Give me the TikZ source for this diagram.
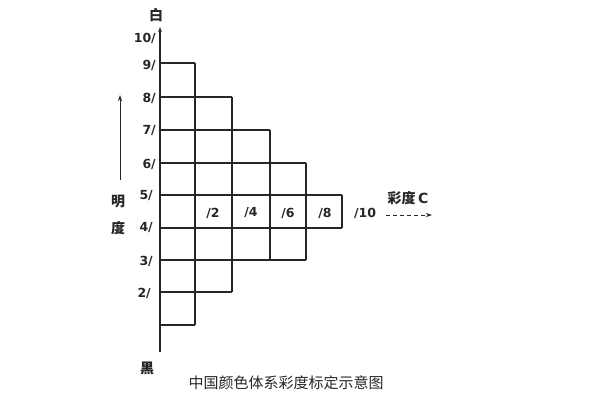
\documentclass[tikz,border=0pt]{standalone}
\usepackage{fontspec}
\setmainfont{DejaVu Sans}
\newfontfamily\cjk{Noto Sans CJK SC}
\usetikzlibrary{arrows.meta}
\begin{document}
\begin{tikzpicture}[x=1pt,y=-1pt,
  grid/.style={draw=black!85, line width=1.1pt},
  lbl/.style={font=\bfseries\fontsize{12.5}{13}\selectfont, text=black!85, inner sep=0pt},
  cjklbl/.style={font=\cjk\bfseries\fontsize{14}{15}\selectfont, text=black!85, inner sep=0pt},
  captext/.style={font=\cjk\fontsize{15}{16}\selectfont, text=black!85, inner sep=0pt}]
\useasboundingbox (0,0) rectangle (600,400);
% axis
\coordinate (atop) at (160,27);
\coordinate (abot) at (160,352);
\draw[grid, -{Stealth[length=5pt,width=3.5pt]}] (abot) -- (atop);
% horizontal lines
\draw[grid] (160,63) -- (195,63);
\draw[grid] (160,97) -- (232,97);
\draw[grid] (160,130) -- (270,130);
\draw[grid] (160,163) -- (306,163);
\draw[grid] (160,195) -- (342,195);
\draw[grid] (160,228) -- (342,228);
\draw[grid] (160,260) -- (306,260);
\draw[grid] (160,292) -- (232,292);
\draw[grid] (160,325) -- (195,325);
% vertical lines
\draw[grid] (195,63) -- (195,325);
\draw[grid] (232,97) -- (232,292);
\draw[grid] (270,130) -- (270,260);
\draw[grid] (306,163) -- (306,260);
\draw[grid] (342,195) -- (342,228);
% value labels
\node[cjklbl] (white) at (156,15) {白};
\node[lbl, anchor=east] (v10) at (156,38) {10/};
\node[lbl, anchor=east] (v9) at (156,65) {9/};
\node[lbl, anchor=east] (v8) at (156,98) {8/};
\node[lbl, anchor=east] (v7) at (156,131) {7/};
\node[lbl, anchor=east] (v6) at (156,164) {6/};
\node[lbl, anchor=east] (v5) at (153,196) {5/};
\node[lbl, anchor=east] (v4) at (153,228) {4/};
\node[lbl, anchor=east] (v3) at (153,261) {3/};
\node[lbl, anchor=east] (v2) at (151,293) {2/};
\node[cjklbl] (black) at (147,368) {黑};
\node[cjklbl] (ming) at (118,202) {明};
\node[cjklbl] (du) at (118,228) {度};
% lightness arrow
\coordinate (la1) at (120,180);
\coordinate (la2) at (120,95);
\draw[grid, line width=1pt, -{Stealth[length=6pt,width=4pt]}] (la1) -- (la2);
% chroma labels
\node[lbl] (c2) at (213,213) {/2};
\node[lbl] (c4) at (251,213) {/4};
\node[lbl] (c6) at (288,213) {/6};
\node[lbl] (c8) at (325,213) {/8};
\node[lbl] (c10) at (365,213) {/10};
\node[font=\cjk\bfseries\fontsize{14}{15}\selectfont, text=black!85, inner sep=0pt] (chroma) at (408,198) {彩度\,\fontspec{DejaVu Sans}\bfseries C};
\coordinate (ca1) at (386,215);
\coordinate (ca2) at (432,215);
\draw[grid, line width=1pt, dash pattern=on 4pt off 3pt, -{Stealth[length=6pt,width=4pt]}] (ca1) -- (ca2);
% caption
\node[captext] (caption) at (286,383) {中国颜色体系彩度标定示意图};
\end{tikzpicture}
\end{document}
